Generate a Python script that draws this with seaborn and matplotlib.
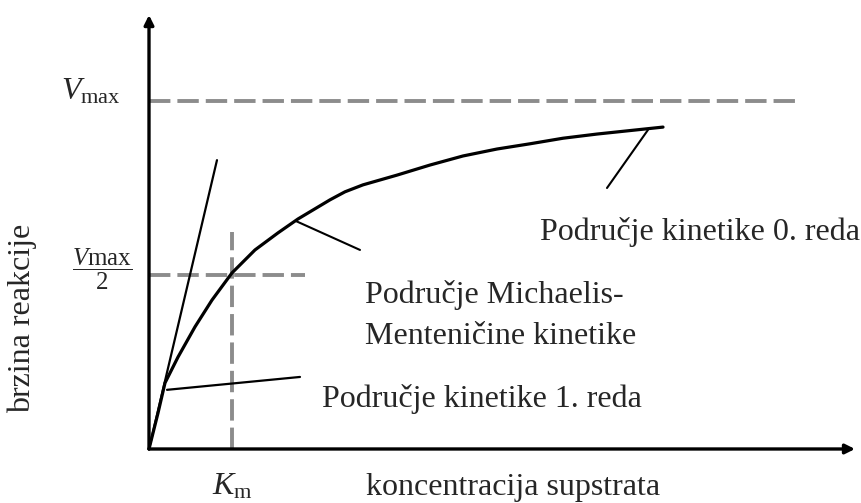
## Michaelis-Menten schematic: reaction rate vs substrate concentration

import pandas as pd
import numpy as np
import seaborn as sns
from matplotlib import pyplot as plt

# curve (x in units of Km, y in units of Vmax)
conc = [0, 0.108, 0.193, 0.349, 0.554, 0.759, 1.0, 1.277, 1.554, 1.795, 2.181,
        2.361, 2.578, 2.988, 3.386, 3.783, 4.193, 4.590, 4.988, 5.398, 5.795, 6.193]
rate = [0, 0.103, 0.190, 0.264, 0.351, 0.428, 0.506, 0.572, 0.621, 0.661, 0.716,
        0.739, 0.759, 0.787, 0.816, 0.842, 0.862, 0.877, 0.893, 0.905, 0.915, 0.925]

km = 1.0
vmax = 1.0
vmax_line_end = 7.84
half_line_end = 1.88
km_line_top = 0.624

# initial slope (1st order) line
tangent_x = [0, 0.819]
tangent_y = [0, 0.830]

# pointer lines from the labels to the curve
ptr_first_x = [0.217, 1.819]
ptr_first_y = [0.170, 0.207]
ptr_mm_x = [1.77, 2.542]
ptr_mm_y = [0.655, 0.572]
ptr_zero_x = [6.012, 5.518]
ptr_zero_y = [0.917, 0.750]

x_label = "koncentracija supstrata"
y_label = "brzina reakcije"
lbl_zero = "Područje kinetike 0. reda"
lbl_mm1 = "Područje Michaelis-"
lbl_mm2 = "Menteničine kinetike"
lbl_first = "Područje kinetike 1. reda"

df = pd.DataFrame({'conc': conc, 'rate': rate})

sns.set_style("white")
plt.rcParams['font.family'] = ['Liberation Serif', 'DejaVu Serif']
plt.rcParams['mathtext.fontset'] = 'custom'
plt.rcParams['mathtext.rm'] = 'Liberation Serif'
plt.rcParams['mathtext.it'] = 'Liberation Serif:italic'

fig = plt.figure(figsize=(8.61, 5.03), dpi=100)
ax = fig.add_axes([0, 0, 1, 1])
ax.set_xlim(-1.7952, 8.5783)
ax.set_ylim(-0.1552, 1.2902)
ax.set_axis_off()

grey = "#8c8c8c"
dash = (5.5, 1.8)
ax.plot([0, vmax_line_end], [vmax, vmax], color=grey, lw=2.8, dashes=dash)
ax.plot([0, half_line_end], [vmax / 2, vmax / 2], color=grey, lw=2.8, dashes=dash)
ax.plot([km, km], [0, km_line_top], color=grey, lw=2.8, dashes=dash)

# main curve
sns.lineplot(data=df, x='conc', y='rate', ax=ax, color='black', lw=2.3)

ax.plot(tangent_x, tangent_y, color='black', lw=1.6)
ax.plot(ptr_first_x, ptr_first_y, color='black', lw=1.6)
ax.plot(ptr_mm_x, ptr_mm_y, color='black', lw=1.5)
ax.plot(ptr_zero_x, ptr_zero_y, color='black', lw=1.5)

# axes with arrow heads
arr = dict(arrowstyle='-|>', lw=2.4, color='black', mutation_scale=14, shrinkA=0, shrinkB=0)
ax.annotate('', xy=(8.506, 0), xytext=(0, 0), arrowprops=arr)
ax.annotate('', xy=(0, 1.247), xytext=(0, 0), arrowprops=arr)

fs = 23
ax.text(-0.699, 1.003, r'$V_{\mathrm{max}}$', fontsize=fs, ha='center', va='baseline')
ax.text(-0.566, 0.518, r'$\dfrac{V\mathrm{max}}{2}$', fontsize=18, ha='center', va='center')
ax.text(-1.530, 0.376, y_label, fontsize=fs, rotation=90, ha='center', va='center')
ax.text(km, -0.132, r'$K_{\mathrm{m}}$', fontsize=fs, ha='center', va='baseline')
ax.text(4.386, -0.132, x_label, fontsize=fs, ha='center', va='baseline')
ax.text(4.711, 0.601, lbl_zero, fontsize=fs, ha='left', va='baseline')
ax.text(2.602, 0.420, lbl_mm1, fontsize=fs, ha='left', va='baseline')
ax.text(2.602, 0.302, lbl_mm2, fontsize=fs, ha='left', va='baseline')
ax.text(2.084, 0.121, lbl_first, fontsize=fs, ha='left', va='baseline')

fig.savefig("out.png", dpi=100)
